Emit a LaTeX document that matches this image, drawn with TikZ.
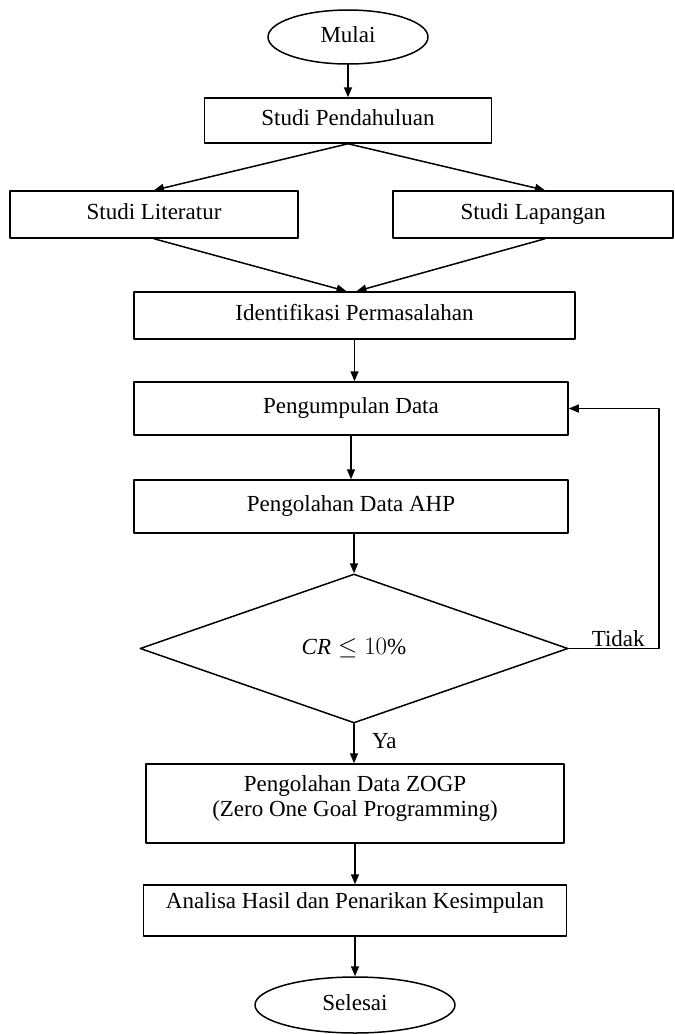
\documentclass[tikz,border=0pt]{standalone}
\usepackage{amsmath,amssymb}
\usepackage{fontspec}
\setmainfont{Liberation Serif}
\usetikzlibrary{arrows.meta,shapes.geometric}
\tikzset{
  every picture/.style={line join=round, line cap=round},
  box/.style={draw, rectangle, line width=1.5pt, inner sep=0pt, text height=15pt, text depth=5pt},
  term/.style={draw, ellipse, line width=1.5pt, inner sep=0pt, text height=15pt, text depth=5pt},
  decide/.style={draw, diamond, line width=1.5pt, inner sep=0pt},
  flow/.style={-{Triangle[length=10pt,width=8pt]}, line width=1.5pt},
}

\begin{document}
\begin{tikzpicture}[x=1pt,y=-1pt,font=\fontsize{23}{25}\selectfont]
\useasboundingbox (0,0) rectangle (675,1034);
% boxes
\node[term,minimum width=160,minimum height=54](mulai) at (348,37){Mulai};
\node[box,minimum width=287,minimum height=45](pendahuluan) at (348,120.5){Studi Pendahuluan};
\node[box,minimum width=288,minimum height=47](literatur) at (154,214.5){Studi Literatur};
\node[box,minimum width=280,minimum height=47](lapangan) at (533,214.5){Studi Lapangan};
\node[box,minimum width=441,minimum height=47](identifikasi) at (354.5,315.5){Identifikasi Permasalahan};
\node[box,minimum width=434,minimum height=53](pengumpulan) at (351,408.5){Pengumpulan Data};
\node[box,minimum width=434,minimum height=53](ahp) at (351,506.5){Pengolahan Data AHP};
\node[decide,minimum width=428,minimum height=149,aspect=2.87](cr) at (354,648.5){$\mathit{CR}\leq 10\%$};
\node[box,minimum width=418,minimum height=79,align=center,text height=40pt,text depth=14pt](zogp) at (355,803.5){Pengolahan Data ZOGP\\(Zero One Goal Programming)};
\node[box,minimum width=423,minimum height=51,text depth=20pt](analisa) at (355,910.5){Analisa Hasil dan Penarikan Kesimpulan};
\node[term,minimum width=200,minimum height=56](selesai) at (355,1005){Selesai};
% arrows
\draw[flow](mulai)--(pendahuluan);
\draw[flow](pendahuluan.south)--(literatur.north);
\draw[flow](pendahuluan.south)--([xshift=12pt]lapangan.north);
\draw[flow](literatur.south)--([xshift=-8pt]identifikasi.north);
\draw[flow]([xshift=12pt]lapangan.south)--([xshift=2pt]identifikasi.north);
\draw[flow](identifikasi)--(identifikasi|-pengumpulan.north);
\draw[flow](pengumpulan)--(ahp);
\draw[flow](cr.north|-ahp.south)--(cr.north);
\draw[flow](cr.south)--node[right,xshift=14pt,yshift=2pt](ya){Ya}(cr.south|-zogp.north);
\draw[flow](cr.east)--node[above,pos=0.55,yshift=-2pt](tidak){Tidak}++(90,0)|-(pengumpulan.east);
\draw[flow](zogp)--(analisa);
\draw[flow](analisa)--(selesai);
\end{tikzpicture}
\end{document}
